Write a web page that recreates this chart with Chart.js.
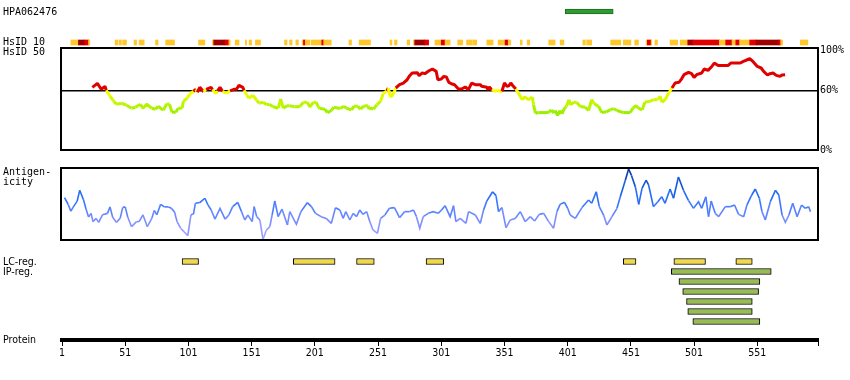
<!DOCTYPE html>
<html><head><meta charset="utf-8">
<script src="https://cdn.jsdelivr.net/npm/chart.js@4"></script>
<style>
body{margin:0;background:#fff;}
#wrap{position:relative;width:850px;height:380px;overflow:hidden;background:#fff;}
canvas{position:absolute;left:0;}
.lbl{position:absolute;left:3px;font-family:'DejaVu Sans Mono',monospace;font-size:10px;line-height:10px;color:#000;white-space:pre;}
.lbl2{position:absolute;left:3px;font-family:'DejaVu Sans Condensed','DejaVu Sans',sans-serif;font-size:10.5px;line-height:11px;color:#000;white-space:pre;}
</style></head><body>
<div id="wrap">
<canvas id="cAg" width="850" height="15" style="top:4px"></canvas>
<canvas id="cH10" width="850" height="15" style="top:35px"></canvas>
<canvas id="cH50" width="850" height="122" style="top:38px"></canvas>
<canvas id="cAnt" width="850" height="90" style="top:160px"></canvas>
<canvas id="cReg" width="850" height="114" style="top:250px"></canvas>
<div class="lbl" style="top:7px">HPA062476</div>
<div class="lbl" style="top:37px">HsID 10</div>
<div class="lbl" style="top:47px">HsID 50</div>
<div class="lbl" style="top:167px">Antigen-</div>
<div class="lbl" style="top:177px">icity</div>
<div class="lbl2" style="top:256px">LC-reg.</div>
<div class="lbl2" style="top:266px">IP-reg.</div>
<div class="lbl2" style="top:334px">Protein</div>
</div>
<script>
const proteinLength = 599;
const xTicks = [1,51,101,151,201,251,301,351,401,451,501,551];

const antigenStart = [399];
const antigenEnd = [437];

// HsID 10 strip: level 0 = orange, 1 = red, 2 = dark red
const hsid10Start = [8,14,19,22,43,46,49,58,62,75,83,109,120,121,130,133,138,146,149,154,177,181,186,191,192,193.5,198,206.5,208,228,236,260.5,264,274,279,280,288,296,301,304,314,321,326,337,346,351.5,354,363.5,369,386,395,413,416,435,445,454,463,464,467,470,482,490,496,500,521,526,531,534,537,545,550,568,569.5,585];
const hsid10End   = [14,19,22,23,45,48,52,60,66,77,90,114,121,130,133,134,141,147,151,158,179,183,188,192,193.5,197,206.5,208,214,230,245,262,266,276,280,288,291,301,304,308,318,325.5,329,342,351.5,354,356,365,371,391,398,415,420,443,451,457,464,467,467.5,472,488,496,500,521,526,531,534,537,545,550,568,569.5,571,591];
const hsid10Level = [0,2,1,0,0,0,0,0,0,0,0,0,0,2,1,0,0,0,0,0,0,0,0,0,1,0,0,1,0,0,0,0,0,0,0,2,1,0,1,0,0,0,0,0,0,1,0,0,0,0,0,0,0,0,0,0,0,1,0,0,0,0,2,1,0,1,0,1,0,1,2,1,0,0];

const hsid50Pos = [25,29,31,32,35,36,39,42,44,48,52,56,59,63,65,68,72,75,77,81,84,86,88,91,93,96,97,100,102,105,107,108,110,113,115,119,120,123,124,126,128,131,134,137,139,141,144,145,147,149,152,155,157,160,163,165,168,172,174,176,179,181,185,189,192,195,197,200,202,204,205,209,211,214,216,221,224,226,230,232,235,237,240,243,244,246,247.5,250,253,255,258,259,261,263.5,265,268,271,274,276,278,282,283.5,286,288,291,294,297,298.3,301,303,305,307,309,311.5,314.6,317,320,322.5,325,328,332,333,337,338,339,341,344,345.5,347.6,349,351,353,354.5,356,358,360,362,365,367,370,373,374,375.5,378,386,388,390,391,393,395,396.5,398.5,400,402,403,406,408,411,415,417.5,420,422,425.5,428,431.5,434.7,437,440,445,450.5,452.5,455,457,460,462,466,469,472,474,475.6,478,481,483.5,486,489,491,493,496.6,499,501,503,507,509,512,515,517,520,528,530,537.5,540,545,547.5,551,554,556,559,561,563.5,566,569,570.5,573];
const hsid50Val = [63,67,63,61,64,60,54,49,46,47,45,42,43,46,42,46,42,41,44,40,46.5,46,38,38,42,42,49,52,56,59,61,58,63,58.5,61,63,60.5,56.5,59.5,63,59,57,59.5,61,61,65,63,60,55.5,52,55,50,47,48,45.5,46,43.5,42,51,42,44.5,44.5,43.5,43.5,48,48,43.5,48,48,42.5,41.7,41,37.5,39.7,43,41.7,44,42,40.3,44,44,41,44.4,44.4,41,42,41,45.4,49,56.6,59.5,62.3,53,57.3,62.3,65.6,67.3,70.6,74.7,77.4,77.7,74.7,77.4,76.7,79.4,81.4,79,70.6,71.3,74,73.4,68,66.6,65.6,61.3,61.3,63.3,60.6,67.3,65.6,65.6,64,63,60.6,63.3,60.6,59,60.6,58.3,59,67.3,64,64.6,67.3,64,61.3,57.3,50.6,53.3,50.6,53.3,45.4,37,37.6,37.6,40.3,37,39.7,35,39.7,36.3,42,43.7,50.6,45.4,48,48,43.7,43,39.7,50.6,46.5,43.7,37.6,38.3,40.3,41.7,39.7,37.6,37.6,42,44.4,42,40.3,47.9,48.9,50.6,50.6,54,48,50.6,57.3,62.3,67.3,68,71.3,75.7,78,76.7,73,75.7,77.4,81.4,80,84,87.4,85,85,87.4,87.4,89,91.7,89,84,82.4,79,75.4,76.7,77.4,75,74,75.4,75.7];

const antigPos = [3,6,8,10,13,15,18,20,22,24,25.5,28,30,33,37,39,41,44,47,49,51,53,56,60,62,65,68.5,72,74,76,79,82,85,87.5,90,92,95,97.5,100.5,103,105,106.5,110,114,116.5,119,122,126,130,133,136,140,143,145.6,148,151.4,153,155,157.5,160,162.7,165.4,167.2,169.3,172,175,179.3,181.2,186.4,190,195,198.3,201.5,206,210,214,217.3,220.8,223.4,225.5,228.7,231.3,234,236.6,239,242,244.5,247,250.5,253,256.4,260,264,268,272,276,279,281.4,284,286.7,290.7,294.6,298.6,301.2,304,308,310.7,312.6,316,320.5,322.6,328,331.8,334.5,337,341.6,344.3,346.3,349,352.2,355.6,359.5,363.5,367.4,371.4,374.8,378.5,382,386,389.8,392.5,395,398.5,401,403,407,412.3,417.5,420,423.6,426,429.4,432,436,440,442.6,446.6,449.2,451.4,454.5,457.2,459.8,463,465,468.8,472.3,475.4,478,482,484.7,488.6,492.6,496.5,500.5,504.5,507,510.3,512.4,514.5,517.7,520.4,525.7,529.6,533,536.2,540.2,542.8,546.3,549.4,552.6,554.7,557.3,561.3,565.3,568,570.6,573.2,576,579,582.5,586,589,591.7,593];
const antigVal = [59,49,40,46,54,69,56,43,32,37,25.5,30,24.5,35,37,46,32,24.5,30,45,46,32,18.5,25.5,25.5,35,18.5,30,41,35,49.5,46,46,44,39,25.5,16,11.6,6,35,36,51,52,58,48.6,41.7,29,44,29,34.7,46.3,52.3,39.4,27.8,34.7,25.5,46.3,32.4,27.8,1,13.9,18.5,34.7,54.2,32.4,43,20.8,39.4,21.8,39.4,51.8,46.3,37,32.4,30,23,44.9,41.7,30,39.4,27.8,37,32.4,41.7,35.6,39.4,25.5,14,9.3,30,34.7,44,45,31,39.4,39.4,41.7,32.4,16.2,32.4,37,39.4,37,41.7,47.7,32.4,47.7,25.5,30,23,39.4,34.7,23,41.7,54,67,61.6,39.4,45,17,27.8,30,39.4,25.5,32.4,26.4,35.6,37,25.5,16.2,39.4,49.5,52.3,44,34.7,30,45,55.6,51,67,46.3,34.7,20.8,32.4,44,60,83,98.6,90,74,49.5,71.8,83,76.4,46.3,53.2,60.2,51,70.8,58,87.5,69,55,44,53,44,60,32.4,54,37,32.4,46.3,46.3,48.6,35.6,32.4,48.6,61.6,70.8,58,39.4,27.8,53.2,69,62.5,34.7,24.5,34.7,51,32.4,48.6,44,46.3,39.4];

const lcStart = [96,184,234,289,445,485,534];
const lcEnd   = [109,217,248,303,455,510,547];
const ipStart = [483,489,492,495,496,500];
const ipEnd   = [562,553,552,547,547,553];

const LEVEL_COLORS = ['#FFC72C','#E00000','#A00000'];
const PAD = {left:62, right:32};

function hsColor(v){
  if (v >= 60) return '#E00000';
  const t = Math.max(0, Math.min(1, (60 - v) / 22.5));
  return 'hsl(' + (60 + t*22).toFixed(1) + ',100%,' + (50 - t*3).toFixed(1) + '%)';
}
function antColor(v){
  const stops = [[0,[176,168,255]],[30,[120,140,255]],[50,[60,120,255]],[70,[20,100,240]],[100,[0,50,140]]];
  v = Math.max(0, Math.min(100, v));
  for (let i=1;i<stops.length;i++){
    if (v <= stops[i][0]){
      const a = stops[i-1], b = stops[i];
      const t = (v - a[0])/(b[0]-a[0]);
      const c = a[1].map((x,k)=>Math.round(x + (b[1][k]-x)*t));
      return 'rgb(' + c.join(',') + ')';
    }
  }
  return 'rgb(0,50,140)';
}
const frame = {id:'frame', afterDatasetsDraw(chart){
  const a = chart.chartArea, c = chart.ctx;
  c.save(); c.strokeStyle = '#000'; c.lineWidth = 2;
  c.strokeRect(a.left - 1, a.top, a.right - a.left + 1, a.bottom - a.top);
  c.restore();
}};
function base(){
  return {responsive:false, animation:false, events:[], devicePixelRatio:1,
    plugins:{legend:{display:false}, tooltip:{enabled:false}}};
}
const xHidden = {type:'linear', min:1, max:proteinLength, display:false, offset:false};

function strip(id, starts, ends, colors, border, bw){
  const o = base();
  o.indexAxis = 'y';
  o.layout = {padding:{left:PAD.left, right:PAD.right, top:0, bottom:0}};
  o.scales = {x: xHidden, y:{type:'linear', min:-1, max:1, display:false, offset:false}};
  new Chart(document.getElementById(id), {
    type:'bar',
    data:{datasets:[{
      data: starts.map((s,i)=>({x:[s, ends[i]], y:0})),
      backgroundColor: colors, borderColor: border, borderWidth: bw,
      borderSkipped:false, barThickness:5, grouped:false
    }]},
    options:o
  });
}
strip('cAg', antigenStart, antigenEnd, ['#339933'], '#1E6E1E', 1);
strip('cH10', hsid10Start, hsid10End, hsid10Level.map(l=>LEVEL_COLORS[l]), 'rgba(0,0,0,0)', 0);

// HsID 50
(function(){
  const o = base();
  o.layout = {padding:{left:PAD.left, right:0, top:10, bottom:10}};
  o.scales = {
    x: xHidden,
    y: {type:'linear', min:0, max:102.5, position:'right',
      afterFit: s => { s.width = PAD.right; },
      afterBuildTicks: s => { s.ticks = [0,60,100].map(v=>({value:v})); },
      grid:{drawTicks:false, color: c => (c.tick && c.tick.value === 60) ? '#000' : 'rgba(0,0,0,0)', lineWidth:1.5},
      border:{display:false},
      ticks:{padding:2, color:'#000', font:{family:'DejaVu Sans Mono', size:10}, callback: v => v + '%'}
    }
  };
  new Chart(document.getElementById('cH50'), {
    type:'line',
    data:{datasets:[{
      data: hsid50Pos.map((p,i)=>({x:p, y:hsid50Val[i]})),
      borderWidth:3, pointRadius:0, borderJoinStyle:'bevel', tension:0,
      borderColor:'#E00000',
      segment:{borderColor: c => hsColor((c.p0.parsed.y + c.p1.parsed.y)/2)}
    }]},
    options:o, plugins:[frame]
  });
})();

// Antigenicity
(function(){
  const o = base();
  o.layout = {padding:{left:PAD.left, right:PAD.right, top:8, bottom:10}};
  o.scales = {x: xHidden, y:{type:'linear', min:0, max:100, display:false}};
  new Chart(document.getElementById('cAnt'), {
    type:'line',
    data:{datasets:[{
      data: antigPos.map((p,i)=>({x:p, y:antigVal[i]})),
      borderWidth:1.6, pointRadius:0, tension:0, borderColor:'#5080FF',
      segment:{borderColor: c => antColor((c.p0.parsed.y + c.p1.parsed.y)/2)}
    }]},
    options:o, plugins:[frame]
  });
})();

// Regions + protein axis
(function(){
  const o = base();
  o.indexAxis = 'y';
  o.layout = {padding:{left:PAD.left, right:PAD.right, top:6.5, bottom:0}};
  o.scales = {
    x: {type:'linear', min:1, max:proteinLength, position:'bottom', offset:false,
      afterBuildTicks: s => { s.ticks = xTicks.concat([proteinLength]).map(v=>({value:v})); },
      afterFit: s => { s.height = 24; },
      grid:{drawOnChartArea:false, drawTicks:true, tickLength:6, color:'#000', lineWidth:1, offset:false},
      border:{display:true, color:'#000', width:4},
      ticks:{autoSkip:false, maxRotation:0, padding:1, color:'#000',
        font:{family:'DejaVu Sans Condensed', size:10.5},
        callback: v => xTicks.includes(v) ? String(v) : ''}
    },
    y: {type:'linear', min:-0.5, max:7.85, reverse:true, display:false, offset:false}
  };
  new Chart(document.getElementById('cReg'), {
    type:'bar',
    data:{datasets:[
      {data: lcStart.map((s,i)=>({x:[s, lcEnd[i]], y:0})), backgroundColor:'#F0D84B', borderColor:'#000', borderWidth:1, borderSkipped:false, barThickness:6, grouped:false},
      {data: ipStart.map((s,i)=>({x:[s, ipEnd[i]], y:i+1})), backgroundColor:'#99BB55', borderColor:'#000', borderWidth:1, borderSkipped:false, barThickness:6, grouped:false}
    ]},
    options:o
  });
})();
</script>
</body></html>
